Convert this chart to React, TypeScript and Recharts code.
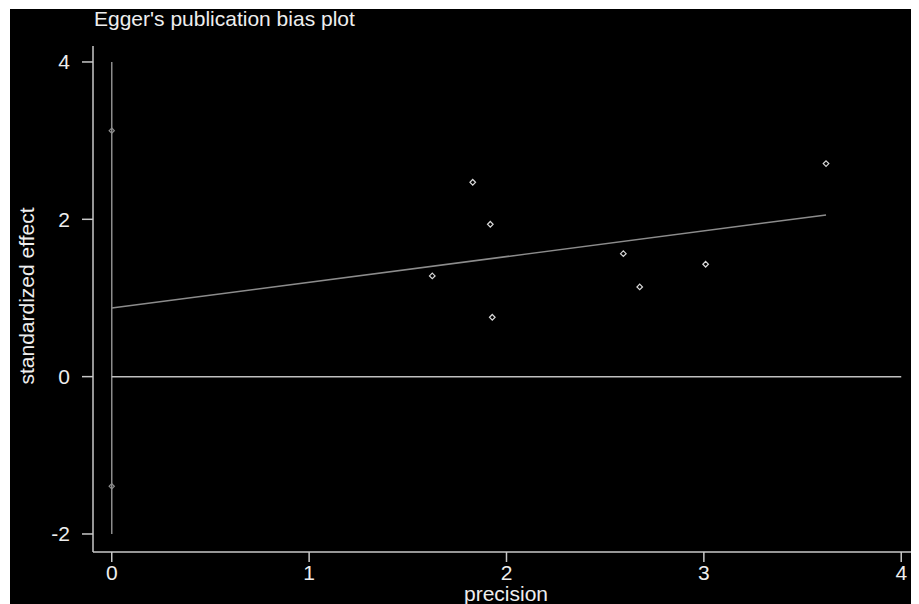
import { ComposedChart, Scatter, XAxis, YAxis, Label } from "recharts";

// study points (precision vs standardized effect)
const precision = [1.624, 1.829, 1.918, 1.928, 2.592, 2.675, 3.009, 3.619];
const effect = [1.28, 2.471, 1.937, 0.755, 1.563, 1.14, 1.429, 2.708];

// Egger regression line
const fitX = [0, 3.619];
const fitY = [0.873, 2.055];

// intercept confidence markers on x = 0
const ciY = [3.127, -1.393];
// vertical line at x = 0 and zero reference
const spanY = [-2, 4];
const zeroX = [0, 4];

const xTicks = [0, 1, 2, 3, 4];
const yTicks = [-2, 0, 2, 4];

const points = precision.map((x, i) => ({ x, y: effect[i] }));
const fitLine = fitX.map((x, i) => ({ x, y: fitY[i] }));
const ciPoints = ciY.map((y) => ({ x: 0, y }));
const spanLine = spanY.map((y) => ({ x: 0, y }));
const zeroLine = zeroX.map((x) => ({ x, y: 0 }));

const FONT = "'Liberation Sans', Arial, sans-serif";
const AXIS = "#c8c8c8";
const TEXT = "#eeeeee";

const diamond = (color: string, r: number) => (props: any) => {
  const { cx, cy } = props;
  return (
    <path
      d={`M${cx},${cy - r}L${cx + r},${cy}L${cx},${cy + r}L${cx - r},${cy}Z`}
      fill="none"
      stroke={color}
      strokeWidth={1.2}
    />
  );
};

const noDot = () => <g />;

const YTitle = (props: any) => {
  const vb = props.viewBox || { x: 0, y: 37, width: 83, height: 506 };
  const cx = 24;
  const cy = vb.y + vb.height / 2 - 3;
  return (
    <text
      x={cx}
      y={cy}
      transform={`rotate(-90, ${cx}, ${cy})`}
      textAnchor="middle"
      fill={TEXT}
      fontSize={21}
      fontFamily={FONT}
    >
      standardized effect
    </text>
  );
};

export default function App() {
  return (
    <div
      style={{
        position: "relative",
        width: 909,
        height: 595,
        marginLeft: 2,
        marginTop: 1,
        background: "#000",
      }}
    >
      <div
        style={{
          position: "absolute",
          left: 84,
          top: -1,
          fontFamily: FONT,
          fontSize: 21,
          lineHeight: "21px",
          color: TEXT,
          whiteSpace: "nowrap",
        }}
      >
        Egger's publication bias plot
      </div>
      <ComposedChart
        width={909}
        height={595}
        margin={{ top: 37, right: 0, bottom: 0, left: 0 }}
      >
        <XAxis
          type="number"
          dataKey="x"
          domain={[-0.095, 4.09]}
          ticks={xTicks}
          allowDataOverflow
          height={52}
          tickSize={10}
          tickMargin={3}
          axisLine={{ stroke: AXIS, strokeWidth: 1.5 }}
          tickLine={{ stroke: AXIS, strokeWidth: 1.5 }}
          tick={{ fill: TEXT, fontSize: 21, fontFamily: FONT }}
        >
          <Label
            value="precision"
            position="insideBottom"
            offset={3}
            fill={TEXT}
            fontSize={21}
            fontFamily={FONT}
          />
        </XAxis>
        <YAxis
          type="number"
          dataKey="y"
          domain={[-2.229, 4.203]}
          ticks={yTicks}
          allowDataOverflow
          width={83}
          tickSize={11}
          tickMargin={12}
          axisLine={{ stroke: AXIS, strokeWidth: 1.5 }}
          tickLine={{ stroke: AXIS, strokeWidth: 1.5 }}
          tick={{ fill: TEXT, fontSize: 21, fontFamily: FONT }}
        >
          <Label content={YTitle} />
        </YAxis>
        <Scatter
          data={spanLine}
          fill="#8c8c8c"
          line={{ stroke: "#8c8c8c", strokeWidth: 1.5 }}
          shape={noDot}
          isAnimationActive={false}
        />
        <Scatter
          data={zeroLine}
          fill="#c0c0c0"
          line={{ stroke: "#c0c0c0", strokeWidth: 1.5 }}
          shape={noDot}
          isAnimationActive={false}
        />
        <Scatter
          data={fitLine}
          fill="#8c8c8c"
          line={{ stroke: "#8c8c8c", strokeWidth: 1.5 }}
          shape={noDot}
          isAnimationActive={false}
        />
        <Scatter
          data={ciPoints}
          fill="#8c8c8c"
          shape={diamond("#8c8c8c", 2.6)}
          isAnimationActive={false}
        />
        <Scatter
          data={points}
          fill="#d8d8d8"
          shape={diamond("#d8d8d8", 2.8)}
          isAnimationActive={false}
        />
      </ComposedChart>
    </div>
  );
}
